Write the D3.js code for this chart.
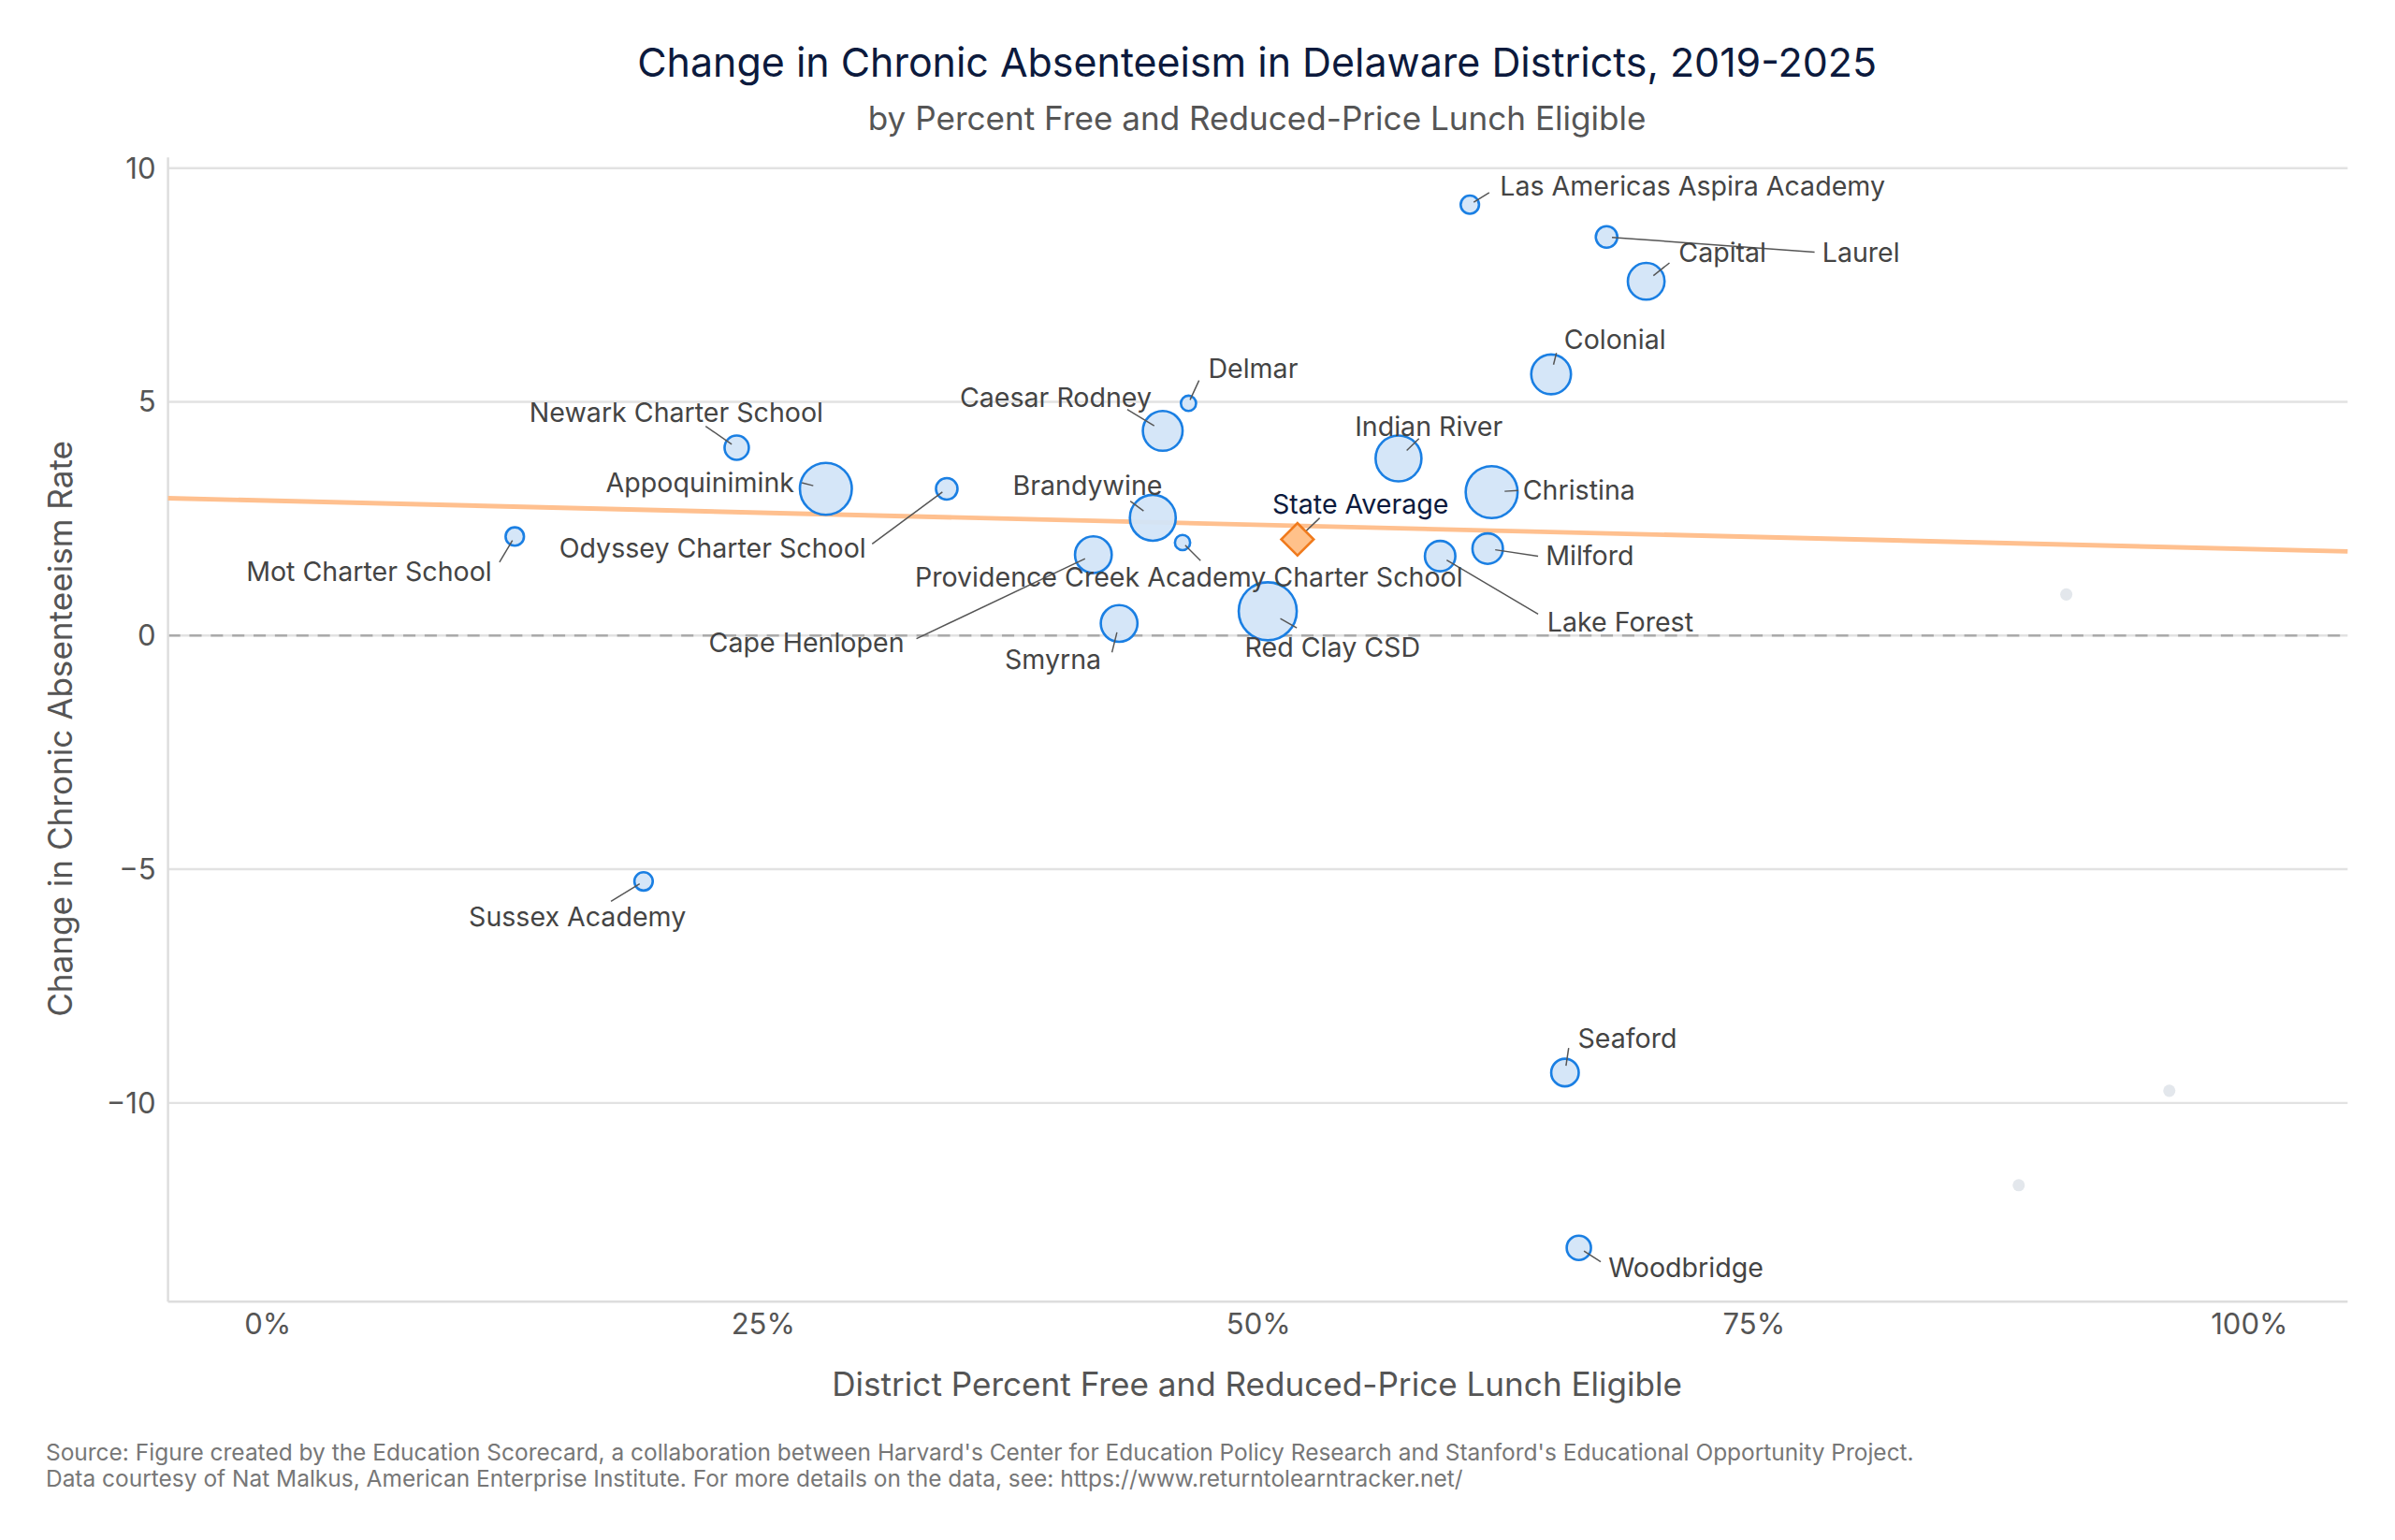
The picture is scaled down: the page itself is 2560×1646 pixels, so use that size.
<!DOCTYPE html>
<html><head><meta charset="utf-8">
<script src="https://cdn.jsdelivr.net/npm/d3@7"></script>
<style>body{margin:0;background:#fff}svg{display:block}text{font-family:Inter,"Noto Sans",sans-serif}</style>
</head><body><svg id="c"></svg>
<script>
const districts = ["Las Americas Aspira Academy","Laurel","Capital","Colonial","Delmar","Caesar Rodney","Newark Charter School","Appoquinimink","Odyssey Charter School","Brandywine","Indian River","Christina","Providence Creek Academy Charter School","Cape Henlopen","Mot Charter School","Milford","Lake Forest","Smyrna","Red Clay CSD","Sussex Academy","Seaford","Woodbridge"];
const frlPct =    [60.7,67.6,69.6,64.8,46.5,45.2,23.7,28.2,34.3,44.7,57.1,61.8,46.2,41.7,12.5,61.6,59.2,43.0,50.5,19.0,65.5,66.2];
const change =    [9.22,8.53,7.58,5.59,4.97,4.38,4.02,3.14,3.14,2.52,3.79,3.07,1.99,1.73,2.12,1.86,1.70,0.26,0.52,-5.26,-9.35,-13.1];
const enrollK =   [1.6,2.2,6.4,7.5,1.1,7.5,2.8,12.8,2.2,10,10,12.8,1.1,6.4,1.6,4.4,4.4,6.4,16,1.6,3.6,2.8];
const otherPct =  [90.8,96.0,88.4];
const otherChange=[0.88,-9.74,-11.76];
const stateAvg = {name:"State Average", pct:52.0, change:2.06};
const trendPct = [-5,105];
const trendChange = [2.94,1.80];
const xTicks = [0,25,50,75,100];
const yTicks = [10,5,0,-5,-10];

// label layout (display units): [anchor, tx, ty, leader end x, leader end y]
const labelLayout = {
 "Las Americas Aspira Academy":["start",982,122,975,126],
 "Laurel":["start",1193,165,1188,165],
 "Capital":["start",1099,165,1093,172],
 "Colonial":["start",1024,222,1019,231],
 "Delmar":["start",791,241,785,249],
 "Caesar Rodney":["end",754,260,738,268],
 "Newark Charter School":["end",539,270,462,279],
 "Appoquinimink":["end",520,316,525,316],
 "Odyssey Charter School":["end",567,359,571,356],
 "Brandywine":["end",761,318,740,328],
 "Indian River":["start",887,279,929,287],
 "Christina":["start",997,321,994,321],
 "Providence Creek Academy Charter School":["start",599,378,786,367],
 "Cape Henlopen":["end",592,421,600,418],
 "Mot Charter School":["end",322,374,327,368],
 "Milford":["start",1012,364,1007,364],
 "Lake Forest":["start",1013,407,1007,402],
 "Smyrna":["end",721,432,728,427],
 "Red Clay CSD":["start",815,424,849,411],
 "Sussex Academy":["middle",378,600,400,590],
 "Seaford":["start",1033,680,1027,686],
 "Woodbridge":["start",1053,830,1048,826],
 "State Average":["start",833,330,864,339]
};

const W=1568,H=1008;
const svg=d3.select("#c").attr("width",2560).attr("height",1646).attr("viewBox",`0 0 ${W} ${H}`);
const m={l:110,r:1537,t:103,b:852};
const x=d3.scaleLinear().domain([-5,105]).range([m.l,m.r]);
const y=d3.scaleLinear().domain([-14.25,10.23]).range([m.b,m.t]);
const r=d3.scaleSqrt().domain([0,16]).range([0,19]);

svg.append("text").attr("x",823).attr("y",50).attr("text-anchor","middle").attr("font-size",26.3).attr("fill","#0c1a3d").text("Change in Chronic Absenteeism in Delaware Districts, 2019-2025");
svg.append("text").attr("x",823).attr("y",85).attr("text-anchor","middle").attr("font-size",21.5).attr("fill","#555").text("by Percent Free and Reduced-Price Lunch Eligible");

svg.append("g").selectAll("line").data(yTicks.filter(d=>d!==0)).join("line")
 .attr("x1",m.l).attr("x2",m.r).attr("y1",d=>y(d)).attr("y2",d=>y(d)).attr("stroke","#e2e2e2").attr("stroke-width",1.5);
svg.append("line").attr("x1",m.l).attr("x2",m.r).attr("y1",y(0)).attr("y2",y(0)).attr("stroke","#e2e2e2").attr("stroke-width",1.5);
svg.append("line").attr("x1",m.l).attr("x2",m.r).attr("y1",y(0)).attr("y2",y(0)).attr("stroke","#aaa").attr("stroke-width",1.5).attr("stroke-dasharray","8,6");
svg.append("line").attr("x1",m.l).attr("x2",m.l).attr("y1",m.t).attr("y2",m.b).attr("stroke","#ddd").attr("stroke-width",1.5);
svg.append("line").attr("x1",m.l).attr("x2",m.r).attr("y1",m.b).attr("y2",m.b).attr("stroke","#ddd").attr("stroke-width",1.5);

const ya=svg.append("g").attr("transform",`translate(${m.l},0)`).call(d3.axisLeft(y).tickValues(yTicks).tickSize(0).tickPadding(8));
ya.select(".domain").remove();
ya.selectAll("text").attr("font-size",19).attr("fill","#555").attr("font-family","Inter");
const xa=svg.append("g").attr("transform",`translate(0,${m.b})`).call(d3.axisBottom(x).tickValues(xTicks).tickFormat(d=>d+"%").tickSize(0).tickPadding(8));
xa.select(".domain").remove();
xa.selectAll("text").attr("font-size",19).attr("fill","#555").attr("font-family","Inter");

svg.append("text").attr("x",823).attr("y",914).attr("text-anchor","middle").attr("font-size",21.5).attr("fill","#555").text("District Percent Free and Reduced-Price Lunch Eligible");
svg.append("text").attr("transform",`translate(47,477) rotate(-90)`).attr("text-anchor","middle").attr("font-size",21.5).attr("fill","#555").text("Change in Chronic Absenteeism Rate");
svg.append("text").attr("x",30).attr("y",956).attr("font-size",15).attr("fill","#777").text("Source: Figure created by the Education Scorecard, a collaboration between Harvard's Center for Education Policy Research and Stanford's Educational Opportunity Project.");
svg.append("text").attr("x",30).attr("y",973).attr("font-size",15).attr("fill","#777").text("Data courtesy of Nat Malkus, American Enterprise Institute. For more details on the data, see: https://www.returntolearntracker.net/");

svg.append("line").attr("x1",x(trendPct[0])).attr("y1",y(trendChange[0])).attr("x2",x(trendPct[1])).attr("y2",y(trendChange[1])).attr("stroke","#ffc08f").attr("stroke-width",3);

svg.append("g").selectAll("circle").data(otherPct).join("circle").attr("cx",d=>x(d)).attr("cy",(d,i)=>y(otherChange[i])).attr("r",4).attr("fill","#e3e7ec");

const data=districts.map((n,i)=>({n,px:x(frlPct[i]),py:y(change[i]),r:r(enrollK[i])}));
svg.append("g").selectAll("circle").data(data).join("circle").attr("cx",d=>d.px).attr("cy",d=>d.py).attr("r",d=>d.r)
 .attr("fill","#d3e5f8").attr("fill-opacity",0.95).attr("stroke","#1a7fe3").attr("stroke-width",1.6);
const lg=svg.append("g");
data.concat([{n:stateAvg.name,px:x(stateAvg.pct),py:y(stateAvg.change),r:9}]).forEach(d=>{
  const L=labelLayout[d.n];
  const dx=L[3]-d.px, dy=L[4]-d.py, len=Math.hypot(dx,dy);
  const sx=d.px+dx/len*Math.min(d.r*0.5,len), sy=d.py+dy/len*Math.min(d.r*0.5,len);
  lg.append("line").attr("x1",sx).attr("y1",sy).attr("x2",L[3]).attr("y2",L[4]).attr("stroke","#555").attr("stroke-width",0.9);
});
svg.append("rect").attr("x",-7.5).attr("y",-7.5).attr("width",15).attr("height",15)
 .attr("transform",`translate(${x(stateAvg.pct)},${y(stateAvg.change)}) rotate(45)`)
 .attr("fill","#ffc18a").attr("stroke","#f07a1c").attr("stroke-width",1.6);

const tg=svg.append("g");
Object.entries(labelLayout).forEach(([n,L])=>{
  tg.append("text").attr("x",L[1]).attr("y",L[2]).attr("dy","0.35em").attr("text-anchor",L[0]).attr("font-size",17.5)
   .attr("fill",n==="State Average"?"#0c1a3d":"#444").text(n);
});
</script></body></html>
